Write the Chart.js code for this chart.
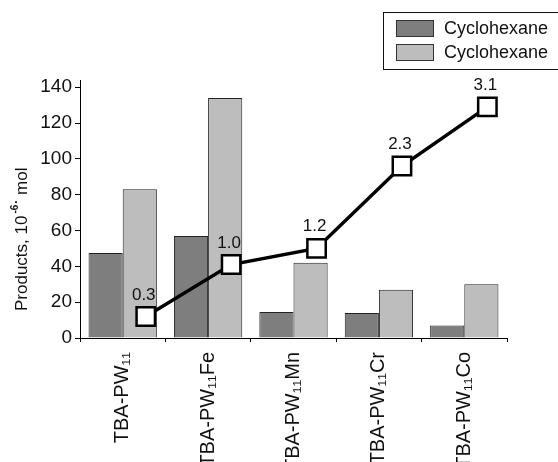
<!DOCTYPE html>
<html>
<head>
<meta charset="utf-8">
<script src="https://cdn.jsdelivr.net/npm/chart.js@4.4.1/dist/chart.umd.min.js"></script>
<style>
html,body{margin:0;padding:0;background:#fff;}
#wrap{width:558px;height:462px;position:relative;}
</style>
</head>
<body>
<div id="wrap"><canvas id="c"></canvas></div>
<script>
const categories = ['TBA-PW\u2081\u2081', 'TBA-PW\u2081\u2081Fe', 'TBA-PW\u2081\u2081Mn', 'TBA-PW\u2081\u2081Cr', 'TBA-PW\u2081\u2081Co'];
const seriesNames = ['Cyclohexane', 'Cyclohexane'];
const darkValues = [47.5, 57, 14.5, 14, 7];
const lightValues = [83, 134, 42, 27, 30];
const lineValues = [12, 41, 50, 96, 129];
const lineLabels = ['0.3', '1.0', '1.2', '2.3', '3.1'];
const yTickValues = [0, 20, 40, 60, 80, 100, 120, 140];
const yTitleParts = ['Products, 10', '-6', '\u00B7', ' mol'];

const FONT = 'Liberation Sans, Arial, Helvetica, sans-serif';
const DARK = '#7e7e7e';
const LIGHT = '#bdbdbd';

const legendPlugin = {
  id: 'boxLegend',
  afterDraw(chart) {
    const ctx = chart.ctx;
    ctx.save();
    ctx.strokeStyle = '#111';
    ctx.lineWidth = 1;
    ctx.fillStyle = '#fff';
    ctx.fillRect(383.5, 12.5, 180, 57);
    ctx.strokeRect(383.5, 12.5, 180, 57);
    const ds = chart.data.datasets.filter(d => d.type === 'bar');
    ds.forEach((d, i) => {
      const y = 20 + i * 24;
      ctx.fillStyle = d.backgroundColor;
      ctx.fillRect(396, y, 38, 17);
      ctx.strokeStyle = '#333';
      ctx.strokeRect(396.5, y + 0.5, 37, 16);
      ctx.fillStyle = '#111';
      ctx.font = '18px ' + FONT;
      ctx.textBaseline = 'middle';
      ctx.textAlign = 'left';
      ctx.fillText(d.label, 444, y + 9);
    });
    ctx.restore();
  }
};

const yTitlePlugin = {
  id: 'yTitle',
  afterDraw(chart) {
    const ctx = chart.ctx;
    ctx.save();
    ctx.translate(27, 311);
    ctx.rotate(-Math.PI / 2);
    ctx.fillStyle = '#111';
    ctx.textAlign = 'left';
    ctx.textBaseline = 'alphabetic';
    let x = 0;
    ctx.font = '17px ' + FONT;
    ctx.fillText(yTitleParts[0], x, 0);
    x += ctx.measureText(yTitleParts[0]).width + 2;
    ctx.font = 'bold 10px ' + FONT;
    ctx.fillText(yTitleParts[1], x, -9);
    x += ctx.measureText(yTitleParts[1]).width + 1;
    ctx.font = 'bold 12px ' + FONT;
    ctx.fillText(yTitleParts[2], x, -7);
    x += ctx.measureText(yTitleParts[2]).width;
    ctx.font = '17px ' + FONT;
    ctx.fillText(yTitleParts[3], x, 0);
    ctx.restore();
  }
};

const pointLabelPlugin = {
  id: 'pointLabels',
  afterDatasetsDraw(chart) {
    const idx = chart.data.datasets.findIndex(d => d.type === 'line');
    const meta = chart.getDatasetMeta(idx);
    const ctx = chart.ctx;
    ctx.save();
    ctx.fillStyle = '#111';
    ctx.font = '17px ' + FONT;
    ctx.textAlign = 'center';
    ctx.textBaseline = 'alphabetic';
    meta.data.forEach((pt, i) => {
      ctx.fillText(lineLabels[i], pt.x - 2, pt.y - 17);
    });
    ctx.restore();
  }
};

new Chart(document.getElementById('c'), {
  data: {
    labels: categories,
    datasets: [
      { type: 'line', label: 'ratio', data: lineValues.map((v, i) => ({ x: i, y: v })), borderColor: '#000', borderWidth: 3.5,
        pointStyle: 'rect', pointRadius: 13, pointBackgroundColor: '#fff', pointBorderColor: '#000', pointBorderWidth: 2.5,
        order: 0, xAxisID: 'x2', yAxisID: 'y', tension: 0 },
      { type: 'bar', label: seriesNames[0], data: darkValues, backgroundColor: DARK, borderColor: '#222', borderWidth: 1, order: 2, xAxisID: 'x', yAxisID: 'y' },
      { type: 'bar', label: seriesNames[1], data: lightValues, backgroundColor: LIGHT, borderColor: '#222', borderWidth: 1, order: 2, xAxisID: 'x', yAxisID: 'y' }
    ]
  },
  options: {
    responsive: true,
    maintainAspectRatio: false,
    animation: false,
    layout: { padding: { left: 0, right: 51, top: 80, bottom: 0 } },
    plugins: { legend: { display: false }, tooltip: { enabled: false } },
    datasets: { bar: { categoryPercentage: 1.6, barPercentage: 1.0 } },
    scales: {
      x: {
        type: 'category',
        offset: true,
        grid: { offset: true, drawOnChartArea: false, drawTicks: true, tickLength: 4, color: '#000' },
        border: { display: true, color: '#000', width: 1 },
        ticks: { minRotation: 90, maxRotation: 90, padding: 10, color: '#111', font: { size: 20, family: FONT } },
        afterFit(scale) { scale.height = 124; }
      },
      x2: {
        type: 'linear',
        display: false,
        offset: false,
        min: -0.77,
        max: 4.23
      },
      y: {
        type: 'linear',
        min: 0,
        max: 144,
        afterBuildTicks(scale) {
          const t = [];
          for (let v = 0; v <= yTickValues[yTickValues.length - 1]; v += 10) t.push({ value: v });
          scale.ticks = t;
        },
        grid: { drawOnChartArea: false, drawTicks: true, tickLength: 5, color: '#000' },
        border: { display: true, color: '#000', width: 1 },
        ticks: {
          padding: 3,
          color: '#111',
          font: { size: 19, family: FONT },
          callback: (v) => (yTickValues.includes(v) ? String(v) : '')
        },
        title: { display: false },
        afterFit(scale) { scale.width = 80; }
      }
    }
  },
  plugins: [legendPlugin, pointLabelPlugin, yTitlePlugin]
});
</script>
</body>
</html>
